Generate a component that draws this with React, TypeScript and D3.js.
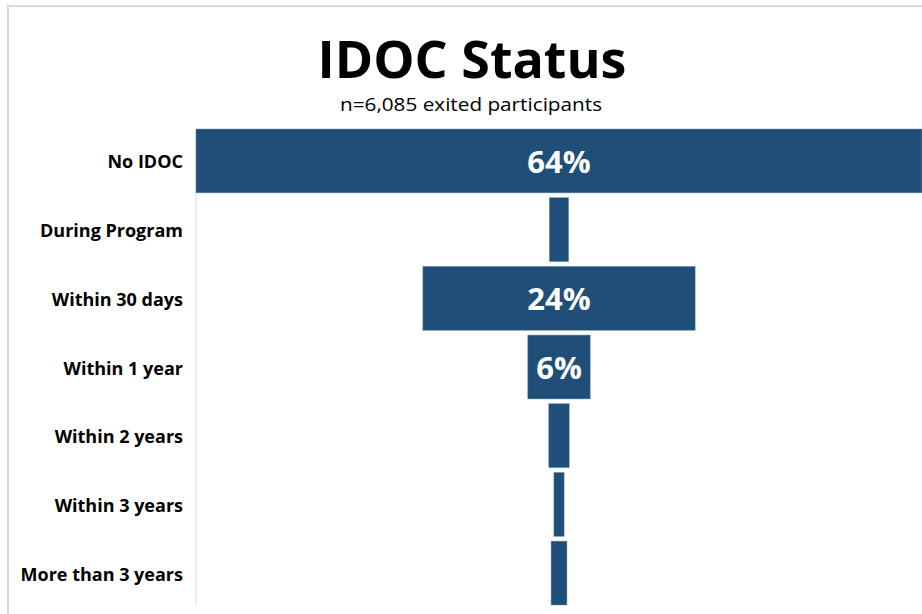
import React from "react";
import * as d3 from "d3";

const categories = [
  "No IDOC",
  "During Program",
  "Within 30 days",
  "Within 1 year",
  "Within 2 years",
  "Within 3 years",
  "More than 3 years",
];
const values = [64, 1.7, 24, 5.5, 1.8, 0.9, 1.4];
const labeledMin = 5; // only values of at least this show a data label

const W = 922;
const H = 614;
const FONT = "'Open Sans', 'Noto Sans', sans-serif";
const BAR = "#1F4E79";

export default function App() {
  const cx = 559;
  const y = d3.scaleBand<string>().domain(categories).range([129, 605]).paddingInner(0.07).paddingOuter(0.0);
  const w = d3.scaleLinear().domain([0, 64]).range([0, 726]);

  return (
    <svg width={W} height={H} style={{ position: "absolute", left: 0, top: 0, background: "#fff" }}>
      <rect x={0} y={0} width={W} height={H} fill="#fff" />
      {/* frame */}
      <line x1={7} x2={W} y1={6} y2={6} stroke="#d9d9d9" strokeWidth={2} />
      <line x1={8} x2={8} y1={6} y2={H} stroke="#d9d9d9" strokeWidth={2} />
      {/* title */}
      <text x={472} y={78} textAnchor="middle" fontFamily={FONT} fontWeight={700} fontSize={52} fill="#000">
        IDOC Status
      </text>
      <text
        x={471}
        y={111}
        textAnchor="middle"
        fontFamily={FONT}
        fontSize={19}
        textLength={262}
        lengthAdjust="spacingAndGlyphs"
        fill="#000"
      >
        n=6,085 exited participants
      </text>
      {/* axis line */}
      <line x1={196} x2={196} y1={129} y2={604} stroke="#d9d9d9" strokeWidth={1} />
      {categories.map((c, i) => {
        const v = values[i];
        const bw = w(v);
        const yy = y(c)!;
        const bh = y.bandwidth();
        return (
          <g key={c}>
            <rect x={cx - bw / 2} y={yy} width={bw} height={bh} fill={BAR} stroke="#6f8fb0" strokeWidth={0.5} />
            <text
              x={183}
              y={yy + bh / 2}
              dy="0.42em"
              textAnchor="end"
              fontFamily={FONT}
              fontWeight={700}
              fontSize={18}
              fill="#000"
            >
              {c}
            </text>
            {v >= labeledMin && (
              <text
                x={cx}
                y={yy + bh / 2}
                dy="0.38em"
                textAnchor="middle"
                fontFamily={FONT}
                fontWeight={700}
                fontSize={31}
                fill="#fff"
              >
                {Math.round(v)}%
              </text>
            )}
          </g>
        );
      })}
    </svg>
  );
}
